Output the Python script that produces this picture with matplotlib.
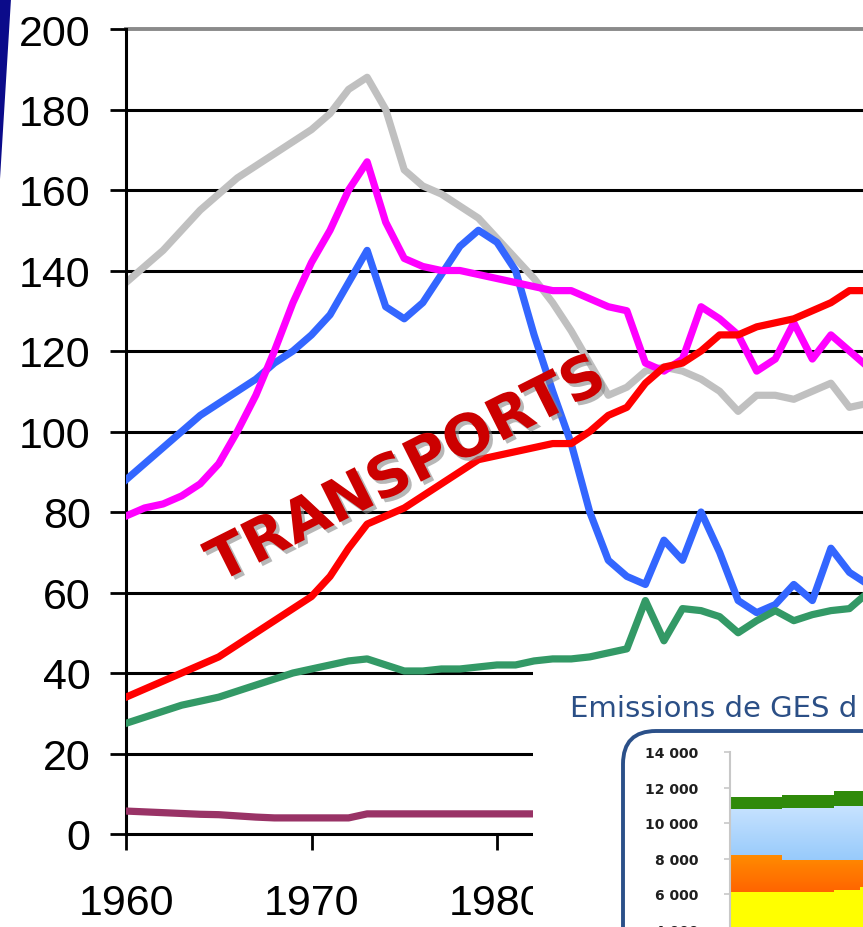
import numpy as np
import matplotlib
matplotlib.use("Agg")
import matplotlib.pyplot as plt
from matplotlib.patches import Rectangle, FancyBboxPatch, Polygon
from matplotlib.colors import LinearSegmentedColormap
import matplotlib.patheffects as pe

# ---------------- data (main chart) ----------------
years = list(range(1960, 2001))

grey = [137, 141, 145, 150, 155, 159, 163, 166, 169, 172, 175, 179, 185, 188, 180,
        165, 161, 159, 156, 153, 148, 143, 138, 132, 125, 117, 109, 111, 115, 116,
        115, 113, 110, 105, 109, 109, 108, 110, 112, 106, 107]
blue = [88, 92, 96, 100, 104, 107, 110, 113, 117, 120, 124, 129, 137, 145, 131,
        128, 132, 139, 146, 150, 147, 140, 124, 110, 97, 80, 68, 64, 62, 73,
        68, 80, 70, 58, 55, 57, 62, 58, 71, 65, 62]
magenta = [79, 81, 82, 84, 87, 92, 100, 109, 120, 132, 142, 150, 160, 167, 152,
           143, 141, 140, 140, 139, 138, 137, 136, 135, 135, 133, 131, 130, 117, 115,
           118, 131, 128, 124, 115, 118, 127, 118, 124, 120, 116]
red = [34, 36, 38, 40, 42, 44, 47, 50, 53, 56, 59, 64, 71, 77, 79,
       81, 84, 87, 90, 93, 94, 95, 96, 97, 97, 100, 104, 106, 112, 116,
       117, 120, 124, 124, 126, 127, 128, 130, 132, 135, 135]
green = [27.5, 29, 30.5, 32, 33, 34, 35.5, 37, 38.5, 40, 41, 42, 43, 43.5, 42,
         40.5, 40.5, 41, 41, 41.5, 42, 42, 43, 43.5, 43.5, 44, 45, 46, 58, 48,
         56, 55.5, 54, 50, 53, 55.5, 53, 54.5, 55.5, 56, 60]
purple = [5.7, 5.5, 5.3, 5.1, 4.9, 4.8, 4.5, 4.2, 4, 4, 4, 4, 4, 5, 5,
          5, 5, 5, 5, 5, 5, 5, 5, 5, 5, 5, 5, 5, 5, 5,
          5, 5, 5, 5, 5, 5, 5, 5, 5, 5, 5]

y_ticks = list(range(0, 201, 20))
x_ticks = [1960, 1970, 1980]

# ---------------- data (inset stacked chart) ----------------
ins_x = [0, 1, 2, 3, 4, 5, 6]
ins_yellow = [6100, 6100, 6100, 6100, 6250, 6400, 6400]
ins_orange = [2100, 2100, 1800, 1800, 1650, 1500, 1500]
ins_blue = [2600, 2600, 2950, 2950, 3050, 3050, 3050]
ins_green = [650, 650, 750, 750, 850, 850, 850]
ins_ticks = list(range(4000, 14001, 2000))
ins_title = "Emissions de GES d"

# ---------------- figure ----------------
W, H = 863, 928
fig = plt.figure(figsize=(W / 100, H / 100), dpi=100)
fig.patch.set_facecolor("white")


def fx(px):
    return px / W


def fy(py):
    return 1 - py / H


ax = fig.add_axes([fx(126), fy(835), fx(863) - fx(126), (835 - 30) / H])
ax.set_xlim(1960, 1960 + (863 - 126) / 18.55)
ax.set_ylim(0, 200)

for v in y_ticks[1:-1]:
    ax.axhline(v, color="black", lw=2.2, zorder=1)
ax.axhline(200, color="#8a8a8a", lw=2.8, zorder=1, clip_on=False)

for s in ["top", "right"]:
    ax.spines[s].set_visible(False)
ax.spines["left"].set_linewidth(2.2)
ax.spines["bottom"].set_linewidth(2.2)

ax.set_yticks(y_ticks)
ax.set_yticklabels([str(v) for v in y_ticks])
ax.set_xticks(x_ticks)
ax.set_xticklabels([str(v) for v in x_ticks])
ax.tick_params(axis="y", direction="out", length=11.5, width=2.0, pad=14,
               labelsize=31)
ax.tick_params(axis="x", direction="out", length=11.5, width=2.0, pad=24,
               labelsize=31)
for lab in ax.get_xticklabels() + ax.get_yticklabels():
    lab.set_fontfamily("Liberation Sans")

lw = 5.2
ax.plot(years, grey, color="#C0C0C0", lw=lw, zorder=2, solid_joinstyle="round")
ax.plot(years, blue, color="#3366FF", lw=lw, zorder=3, solid_joinstyle="round")
ax.plot(years, magenta, color="#FF00FF", lw=lw, zorder=4, solid_joinstyle="round")
ax.plot(years, red, color="#FF0000", lw=lw, zorder=5, solid_joinstyle="round")
ax.plot(years, green, color="#339966", lw=lw, zorder=5, solid_joinstyle="round")
ax.plot(years, purple, color="#993366", lw=lw, zorder=5, solid_joinstyle="round")

ax.text(1975.15, 90.4, "TRANSPORTS", color="#CC0000", fontsize=42,
        fontweight="bold", family="DejaVu Sans", rotation=26.6,
        rotation_mode="anchor", ha="center", va="center", zorder=6,
        path_effects=[pe.SimplePatchShadow(offset=(2.5, -2.5), shadow_rgbFace="#888888", alpha=0.6),
                      pe.Normal()])

# ---------------- inset (covers lower right) ----------------
fig.patches.append(Rectangle((fx(533), 0), 1.0, fy(669), transform=fig.transFigure,
                             facecolor="white", edgecolor="none", zorder=2))

fig.text(fx(570), fy(717), ins_title, color="#2B4F86", fontsize=21,
         family="DejaVu Sans", ha="left", va="baseline", zorder=5)

box = FancyBboxPatch((6.23, -2.0), 6.0, (928 - 732) / 100 + 2.0,
                     boxstyle="round,pad=0,rounding_size=0.33",
                     transform=fig.dpi_scale_trans, facecolor="none",
                     edgecolor="#2B5089", lw=2.8, zorder=5)
fig.patches.append(box)

ax2 = fig.add_axes([fx(730), fy(1001.5), fx(1000) - fx(730), (1001.5 - 753) / H],
                   zorder=4)
ax2.patch.set_alpha(0)
cum = np.zeros(len(ins_x))
layers = [(ins_yellow, "#FFFF00", "#FFFF00"),
          (ins_orange, "#FF8C00", "#FF6400"),
          (ins_blue, "#C8E3FF", "#97CAFB"),
          (ins_green, "#2F8A0A", "#2F8A0A")]
for vals, ctop, cbot in layers:
    lower = cum.copy()
    cum = cum + np.array(vals, dtype=float)
    poly = ax2.fill_between(ins_x, lower, cum, step="post", color=ctop, lw=0, zorder=1)
    if ctop != cbot:
        grad = np.linspace(0, 1, 256).reshape(-1, 1)
        cmap = LinearSegmentedColormap.from_list("g", [cbot, ctop])
        im = ax2.imshow(grad, extent=[ins_x[0], ins_x[-1], lower.min(), cum.max()],
                        origin="lower", aspect="auto", cmap=cmap, zorder=1.5)
        im.set_clip_path(poly.get_paths()[0], transform=ax2.transData)
ax2.set_xlim(0, (1000 - 730) / 26)
ax2.set_ylim(0, 14000)
for s in ["top", "right", "bottom"]:
    ax2.spines[s].set_visible(False)
ax2.spines["left"].set_color("#C8C8C8")
ax2.spines["left"].set_linewidth(1.5)
ax2.set_xticks([])
ax2.set_yticks(ins_ticks)
ax2.set_yticklabels([f"{v:,}".replace(",", " ") for v in ins_ticks])
ax2.tick_params(axis="y", direction="out", length=4, width=1.2, colors="#C8C8C8",
                labelcolor="#1F1F1F", labelsize=10, pad=19)
for lab in ax2.get_yticklabels():
    lab.set_fontweight("bold")

# dark blue wedge top-left
fig.patches.append(Polygon([(0, 9.28), (0.11, 9.28), (0, 9.28 - 1.8)], closed=True,
                           transform=fig.dpi_scale_trans, facecolor="#0B0B8A",
                           edgecolor="none", zorder=6))

fig.savefig("out.png", dpi=100)
